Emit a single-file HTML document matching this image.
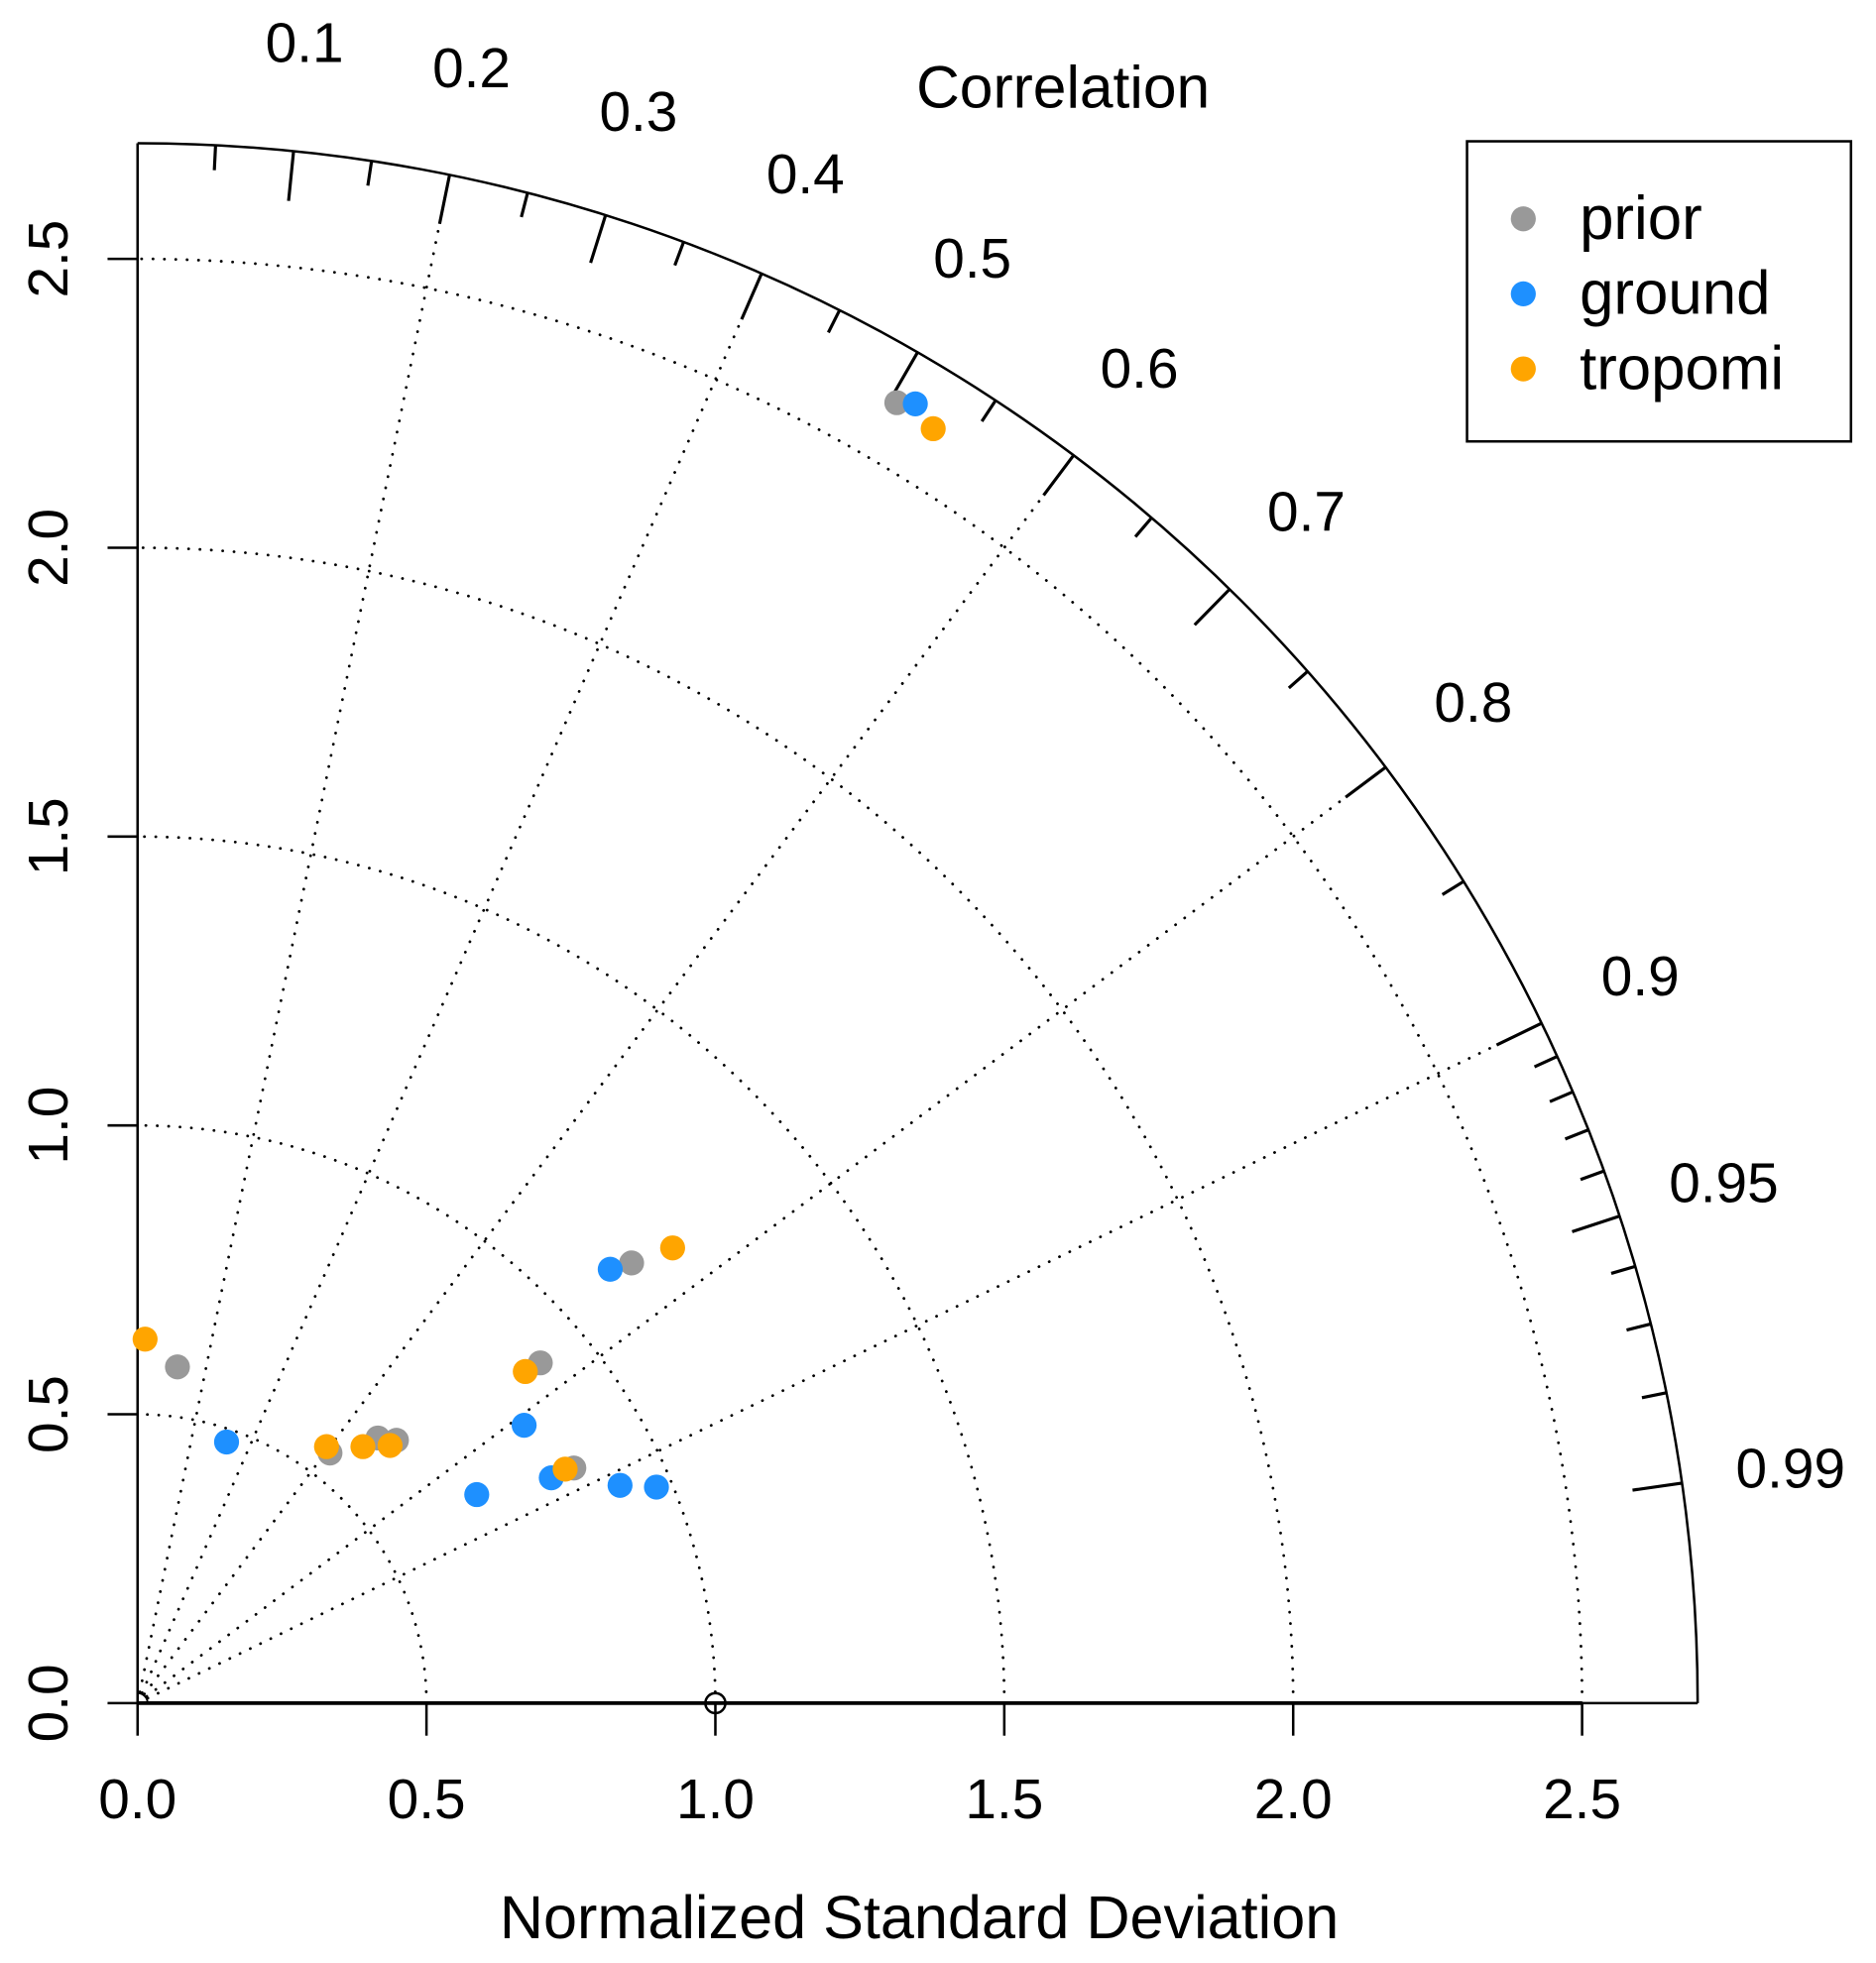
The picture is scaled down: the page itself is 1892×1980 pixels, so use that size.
<!DOCTYPE html>
<html><head><meta charset="utf-8"><style>
html,body{margin:0;padding:0;background:#fff}
svg{display:block;font-family:"Liberation Sans",Arial,sans-serif}
</style></head><body>
<svg id="chart" width="1892" height="1980" viewBox="0 0 1500 1569.8" preserveAspectRatio="none" xmlns="http://www.w3.org/2000/svg"></svg>
<script>
// Data: normalized SD components (x = sd*cor, y = sd*sqrt(1-cor^2))
const priorX = [1.314, 0.855, 0.697, 0.069, 0.416, 0.448, 0.333, 0.755];
const priorY = [2.251, 0.762, 0.589, 0.582, 0.459, 0.455, 0.433, 0.407];
const groundX = [1.346, 0.818, 0.669, 0.154, 0.587, 0.716, 0.835, 0.898];
const groundY = [2.249, 0.751, 0.481, 0.452, 0.361, 0.390, 0.377, 0.374];
const tropomiX = [1.377, 0.926, 0.671, 0.013, 0.327, 0.390, 0.437, 0.740];
const tropomiY = [2.206, 0.788, 0.574, 0.630, 0.444, 0.444, 0.446, 0.405];
const sdTicks = ["0.0","0.5","1.0","1.5","2.0","2.5"];
const sdArcs = [0.5, 1.0, 1.5, 2.0, 2.5];
const corRays = [0.2, 0.4, 0.6, 0.8, 0.9];
const corLabels = ["0.1","0.2","0.3","0.4","0.5","0.6","0.7","0.8","0.9","0.95","0.99"];
const corMinor = [0.05,0.15,0.25,0.35,0.45,0.55,0.65,0.75,0.85,0.91,0.92,0.93,0.94,0.96,0.97,0.98];
const seriesNames = ["prior","ground","tropomi"];
const seriesColors = ["#999999","#1e90ff","#ffa500"];
const SDMAX = 2.7;

const NS = "http://www.w3.org/2000/svg";
const svg = document.getElementById('chart');
const X0 = 110, Y0 = 1362, U = 462;
const sx = v => X0 + v * U;
const sy = v => Y0 - v * U;
function mk(tag, attrs, parent) {
  const e = document.createElementNS(NS, tag);
  for (const k in attrs) e.setAttribute(k, attrs[k]);
  (parent || svg).appendChild(e);
  return e;
}
function polar(r, cor) { const a = Math.acos(cor); return [X0 + r*U*Math.cos(a), Y0 - r*U*Math.sin(a)]; }

sdArcs.forEach(r => {
  const p = mk('path', {d:`M ${sx(r)} ${Y0} A ${r*U} ${r*U} 0 0 0 ${X0} ${sy(r)}`, fill:'none', stroke:'#000', 'stroke-width':2.2, 'stroke-dasharray':'0.1 9', 'stroke-linecap':'round'});
  
  
});
corRays.forEach(c => {
  const [x, y] = polar(SDMAX, c);
  const l = mk('line', {x1:X0, y1:Y0, x2:x, y2:y, stroke:'#000', 'stroke-width':2.2, 'stroke-dasharray':'0.1 9', 'stroke-linecap':'round'});
  
  
});
const outer = mk('path', {d:`M ${sx(SDMAX)} ${Y0} A ${SDMAX*U} ${SDMAX*U} 0 0 0 ${X0} ${sy(SDMAX)}`, fill:'none', stroke:'#000', 'stroke-width':2});


const yAxis = mk('line', {x1:X0, y1:sy(SDMAX), x2:X0, y2:Y0, stroke:'#000', 'stroke-width':2});


const xAxis = mk('line', {x1:X0, y1:Y0, x2:sx(SDMAX), y2:Y0, stroke:'#000', 'stroke-width':2});


mk('line', {x1:X0, y1:Y0, x2:sx(2.5), y2:Y0, stroke:'#000', 'stroke-width':3});
mk('path', {d:`M ${X0+8} ${Y0} A 8 8 0 0 0 ${X0} ${Y0-8}`, fill:'none', stroke:'#000', 'stroke-width':1.5});
const ref = mk('circle', {cx:sx(1), cy:Y0, r:8, fill:'none', stroke:'#000', 'stroke-width':2});



sdTicks.forEach(t => {
  const v = parseFloat(t);
  mk('line', {x1:sx(v), y1:Y0, x2:sx(v), y2:Y0+26, stroke:'#000', 'stroke-width':2});
  const tx = mk('text', {x:sx(v), y:Y0+92, 'font-size':45, 'text-anchor':'middle'});
  tx.textContent = t;
  
  
  mk('line', {x1:X0-24, y1:sy(v), x2:X0, y2:sy(v), stroke:'#000', 'stroke-width':2});
  const ty = mk('text', {x:0, y:0, 'font-size':45, 'text-anchor':'middle', transform:`translate(54 ${sy(v)}) rotate(-90)`});
  ty.textContent = t;
  
  
});

corLabels.forEach(t => {
  const c = parseFloat(t);
  const [x1, y1] = polar(SDMAX, c);
  const [x2, y2] = polar(SDMAX - 40/U, c);
  mk('line', {x1, y1, x2, y2, stroke:'#000', 'stroke-width':2.5});
  const [lx, ly] = polar(1335/U, c);
  const tx = mk('text', {x:lx, y:ly+16, 'font-size':45, 'text-anchor':'middle'});
  tx.textContent = t;
  
  
});
corMinor.forEach(c => {
  const [x1, y1] = polar(SDMAX, c);
  const [x2, y2] = polar(SDMAX - 20/U, c);
  mk('line', {x1, y1, x2, y2, stroke:'#000', 'stroke-width':2.5});
});

const ct = mk('text', {x:850, y:86, 'font-size':48, 'text-anchor':'middle'});
ct.textContent = 'Correlation';


const xt = mk('text', {x:735, y:1550, 'font-size':48.5, 'text-anchor':'middle'});
xt.textContent = 'Normalized Standard Deviation';



const allX = [priorX, groundX, tropomiX];
const allY = [priorY, groundY, tropomiY];
allX.forEach((xs, s) => {
  xs.forEach((v, i) => {
    const c = mk('circle', {cx:sx(v), cy:sy(allY[s][i]), r:10, fill:seriesColors[s]});
    
    
  });
});

const lg = mk('g', {});


mk('rect', {x:1173, y:113, width:307, height:240, fill:'#fff', stroke:'#000', 'stroke-width':2}, lg);
seriesNames.forEach((n, i) => {
  const cy = 175 + i*60;
  const d = mk('circle', {cx:1218, cy, r:10, fill:seriesColors[i]}, lg);
  
  
  const t = mk('text', {x:1263, y:cy+16, 'font-size':49}, lg);
  t.textContent = n;
  
  
});
</script>
</body></html>
